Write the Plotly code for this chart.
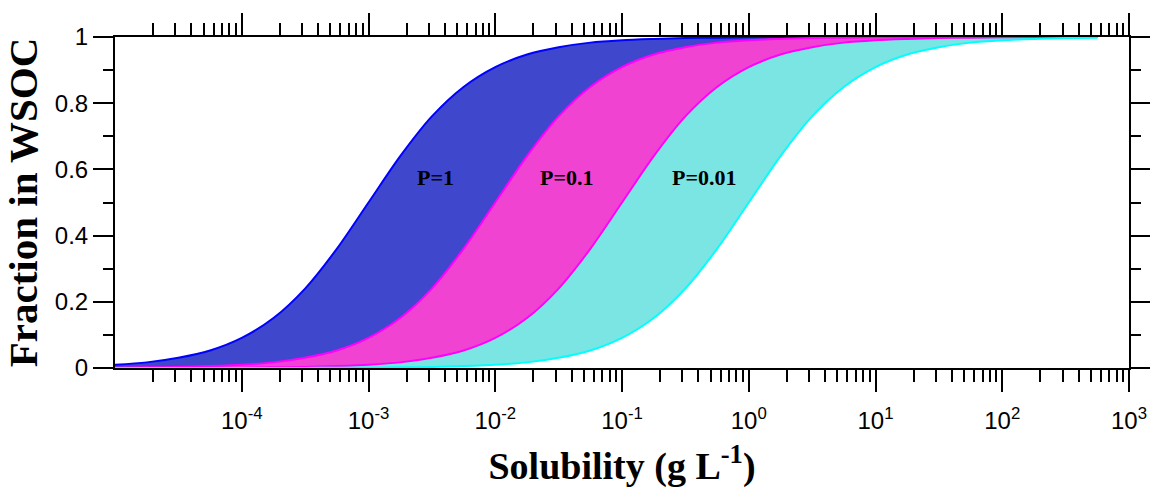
import math
import plotly.graph_objects as go

# Solubility (g L^-1), x positions of read points
solubility = [1.0e-5, 1.78e-5, 3.16e-5, 5.62e-5, 1.0e-4, 1.78e-4, 3.16e-4, 5.62e-4,
              1.0e-3, 1.78e-3, 3.16e-3, 5.62e-3, 1.0e-2, 0.0178, 0.0316, 0.0562,
              0.1, 0.178, 0.316, 0.562, 1.0, 1.78, 3.16, 5.62,
              10.0, 17.8, 31.6, 56.2, 100.0, 178.0, 316.0, 562.0]

# Boundary curves of the three bands (fraction in WSOC)
curve_a = [0.010, 0.017, 0.031, 0.053, 0.091, 0.151, 0.240, 0.360, 0.500, 0.640, 0.760,
           0.849, 0.909, 0.947, 0.969, 0.983, 0.990, 0.994, 0.997, 0.998, 0.999,
           1.000, 1.000, 1.000, 1.000, 1.000, 1.000, 1.000, 1.000, 1.000, 1.000, 1.000]
curve_b = [0.001, 0.002, 0.003, 0.006,
           0.010, 0.017, 0.031, 0.053, 0.091, 0.151, 0.240, 0.360, 0.500, 0.640, 0.760,
           0.849, 0.909, 0.947, 0.969, 0.983, 0.990, 0.994, 0.997, 0.998, 0.999,
           1.000, 1.000, 1.000, 1.000, 1.000, 1.000, 1.000]
curve_c = [0.0001, 0.0002, 0.0003, 0.0006, 0.001, 0.002, 0.003, 0.006,
           0.010, 0.017, 0.031, 0.053, 0.091, 0.151, 0.240, 0.360, 0.500, 0.640, 0.760,
           0.849, 0.909, 0.947, 0.969, 0.983, 0.990, 0.994, 0.997, 0.998, 0.999,
           1.000, 1.000, 1.000]
curve_d = [0.00001, 0.00002, 0.00003, 0.00006, 0.0001, 0.0002, 0.0003, 0.0006,
           0.001, 0.002, 0.003, 0.006,
           0.010, 0.017, 0.031, 0.053, 0.091, 0.151, 0.240, 0.360, 0.500, 0.640, 0.760,
           0.849, 0.909, 0.947, 0.969, 0.983, 0.990, 0.994, 0.997, 0.998]

band_labels = ["P=1", "P=0.1", "P=0.01"]
label_x = [10 ** -2.47, 10 ** -1.44, 10 ** -0.35]
label_y = [0.577, 0.577, 0.577]

x_tick_vals = [1e-4, 1e-3, 1e-2, 1e-1, 1e0, 1e1, 1e2, 1e3]
x_tick_text = ["10<sup>-4</sup>", "10<sup>-3</sup>", "10<sup>-2</sup>", "10<sup>-1</sup>",
               "10<sup>0</sup>", "10<sup>1</sup>", "10<sup>2</sup>", "10<sup>3</sup>"]
y_tick_vals = [0, 0.2, 0.4, 0.6, 0.8, 1.0]
y_tick_text = ["0", "0.2", "0.4", "0.6", "0.8", "1"]

line_colors = ["#0000FF", "#FF00FF", "#FF00FF", "#00FFFF"]
fill_colors = [None, "#3F48CC", "#F143D1", "#7BE5E3"]

fig = go.Figure()
for i, ys in enumerate([curve_a, curve_b, curve_c, curve_d]):
    fig.add_trace(go.Scatter(
        x=solubility, y=ys, mode="lines",
        line=dict(color=line_colors[i], width=2, shape="spline", smoothing=0.8),
        fill="tonexty" if i > 0 else None,
        fillcolor=fill_colors[i],
        showlegend=False, hoverinfo="skip",
    ))

for t, xv, yv in zip(band_labels, label_x, label_y):
    fig.add_annotation(x=math.log10(xv), y=yv, text=f"<b>{t}</b>", showarrow=False,
                       font=dict(family="Liberation Serif, Times New Roman, serif", size=22, color="black"))

minor_x = [m * 10 ** e for e in range(-5, 3) for m in range(2, 10)]
minor_y = [0.1, 0.3, 0.5, 0.7, 0.9]

axis_font = dict(family="Liberation Sans, Arial, sans-serif", size=24, color="black")
ytitle_font = dict(family="Liberation Serif, Times New Roman, serif", size=41, color="black")
xtitle_font = dict(family="Liberation Serif, Times New Roman, serif", size=38, color="black")

fig.update_xaxes(
    type="log", range=[-5, 3], automargin=False,
    showline=True, linecolor="black", linewidth=2, mirror="allticks",
    ticks="outside", ticklen=22, tickwidth=2, tickcolor="black",
    tickmode="array", tickvals=x_tick_vals, ticktext=x_tick_text,
    tickfont=axis_font, showgrid=False, zeroline=False, ticklabelstandoff=8,
    minor=dict(ticks="outside", ticklen=12, tickwidth=2, tickcolor="black",
               tickmode="array", tickvals=minor_x, showgrid=False),
    title=dict(text="<b>Solubility (g L<sup>-1</sup>)</b>", font=xtitle_font, standoff=22),
)
fig.update_yaxes(
    range=[0, 1], automargin=False,
    showline=True, linecolor="black", linewidth=2, mirror="allticks",
    ticks="outside", ticklen=20, tickwidth=2, tickcolor="black",
    tickmode="array", tickvals=y_tick_vals, ticktext=y_tick_text,
    tickfont=axis_font, showgrid=False, zeroline=False,
    minor=dict(ticks="outside", ticklen=10, tickwidth=2, tickcolor="black",
               tickmode="array", tickvals=minor_y, showgrid=False),
    title=dict(text="<b>Fraction in WSOC</b>", font=ytitle_font, standoff=4),
)

fig.update_layout(
    width=1150, height=488,
    margin=dict(l=115, r=21, t=37, b=120),
    paper_bgcolor="white", plot_bgcolor="white",
)

fig.write_html("out.html")
